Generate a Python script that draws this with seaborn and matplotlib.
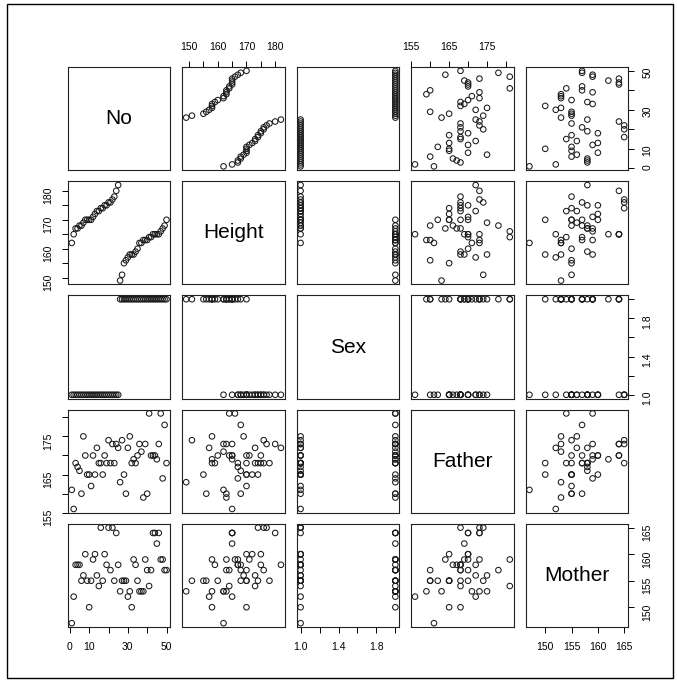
import pandas as pd
import seaborn as sns
import matplotlib.pyplot as plt
from matplotlib.patches import Rectangle

# survey data: row number, own height, sex (1/2), father's and mother's height
no = [1, 2, 3, 4, 5, 6, 7, 8, 9, 10, 11, 12, 13, 14, 15, 16, 17, 18, 19, 20, 21, 22, 23, 24, 25,
      26, 27, 28, 29, 30, 31, 32, 33, 34, 35, 36, 37, 38, 39, 40, 41, 42, 43, 44, 45, 46, 47, 48, 49, 50]
height = [162, 165, 167, 167, 168, 168, 169, 170, 170, 170, 170, 171, 172, 173, 173, 174, 174, 175, 175, 176,
          176, 177, 178, 180, 182,
          149, 151, 155, 156, 157, 158, 158, 158, 159, 160, 162, 162, 163, 163, 163, 164, 164, 165, 165, 165,
          165, 166, 167, 168, 170]
sex = [1, 1, 1, 1, 1, 1, 1, 1, 1, 1, 1, 1, 1, 1, 1, 1, 1, 1, 1, 1, 1, 1, 1, 1, 1,
       2, 2, 2, 2, 2, 2, 2, 2, 2, 2, 2, 2, 2, 2, 2, 2, 2, 2, 2, 2, 2, 2, 2, 2, 2]
father = [161, 156, 168, 167, 166, 160, 175, 170, 165, 165, 162, 170, 165, 172, 168, 168, 165, 170, 168, 174,
          168, 173, 168, 173, 172,
          163, 174, 165, 160, 172, 175, 168, 169, 168, 170, 173, 171, 159, 173, 160, 181, 170, 170, 170, 169,
          173, 181, 164, 178, 168]
mother = [147, 152, 158, 158, 158, 155, 156, 160, 155, 150, 155, 159, 160, 156, 154, 165, 155, 160, 158, 165,
          157, 165, 155, 164, 158,
          153, 155, 155, 155, 152, 153, 150, 159, 158, 155, 153, 153, 153, 159, 157, 154, 157, 164, 164, 162,
          164, 159, 159, 157, 157]

var_names = ["No", "Height", "Sex", "Father", "Mother"]

# axis ticks, R style (some labels dropped where they would overlap)
no_ticks = [0, 10, 20, 30, 40, 50]
no_labels = ["0", "10", "", "30", "", "50"]
height_ticks = [150, 155, 160, 165, 170, 175, 180]
height_labels = ["150", "", "160", "", "170", "", "180"]
sex_ticks = [1.0, 1.2, 1.4, 1.6, 1.8, 2.0]
sex_labels = ["1.0", "", "1.4", "", "1.8", ""]
father_ticks = [155, 160, 165, 170, 175, 180]
father_labels = ["155", "", "165", "", "175", ""]
mother_ticks = [150, 155, 160, 165]
mother_labels = ["150", "155", "160", "165"]

df = pd.DataFrame({"No": no, "Height": height, "Sex": sex, "Father": father, "Mother": mother})
ticks = {"No": (no_ticks, no_labels), "Height": (height_ticks, height_labels),
         "Sex": (sex_ticks, sex_labels), "Father": (father_ticks, father_labels),
         "Mother": (mother_ticks, mother_labels)}

plt.rcParams["font.family"] = ["Liberation Sans", "DejaVu Sans"]
plt.rcParams["axes.linewidth"] = 0.8

g = sns.PairGrid(df, vars=var_names, height=1.35, despine=False)
g.map_offdiag(sns.scatterplot, s=16, facecolor="none", edgecolor="#1a1a1a", linewidth=0.75)

n = len(var_names)
for k, name in enumerate(var_names):
    lo, hi = df[name].min(), df[name].max()
    pad = 0.04 * (hi - lo)
    g.axes[0, k].set_xlim(lo - pad, hi + pad)
    g.axes[k, 0].set_ylim(lo - pad, hi + pad)
    g.axes[0, k].set_xticks(*ticks[name])
    g.axes[k, 0].set_yticks(*ticks[name])

for i in range(n):
    for j in range(n):
        ax = g.axes[i, j]
        ax.set_xlabel("")
        ax.set_ylabel("")
        for sp in ax.spines.values():
            sp.set_color("#222222")
        ax.tick_params(top=False, bottom=False, left=False, right=False,
                       labeltop=False, labelbottom=False, labelleft=False, labelright=False,
                       direction="out", length=4, width=0.7, pad=6.5, labelsize=7.5)
        if i == 0 and j % 2 == 1:
            ax.tick_params(top=True, labeltop=True)
        if i == n - 1 and j % 2 == 0:
            ax.tick_params(bottom=True, labelbottom=True)
        if j == 0 and i % 2 == 1:
            ax.tick_params(left=True, labelleft=True)
        if j == n - 1 and i % 2 == 0:
            ax.tick_params(right=True, labelright=True)
        ax.tick_params(axis="y", labelrotation=90)
        if i == j:
            ax.text(0.5, 0.5, var_names[i], transform=ax.transAxes,
                    ha="center", va="center", fontsize=15)

fig = g.figure
fig.set_size_inches(6.77, 6.81)
fig.subplots_adjust(left=0.1004, right=0.9276, bottom=0.0793, top=0.9016,
                    wspace=0.118, hspace=0.107)
fig.patches.append(Rectangle((0.010, 0.004), 0.984, 0.99, transform=fig.transFigure,
                             fill=False, edgecolor="black", linewidth=1))
fig.savefig("out.png", dpi=100)
